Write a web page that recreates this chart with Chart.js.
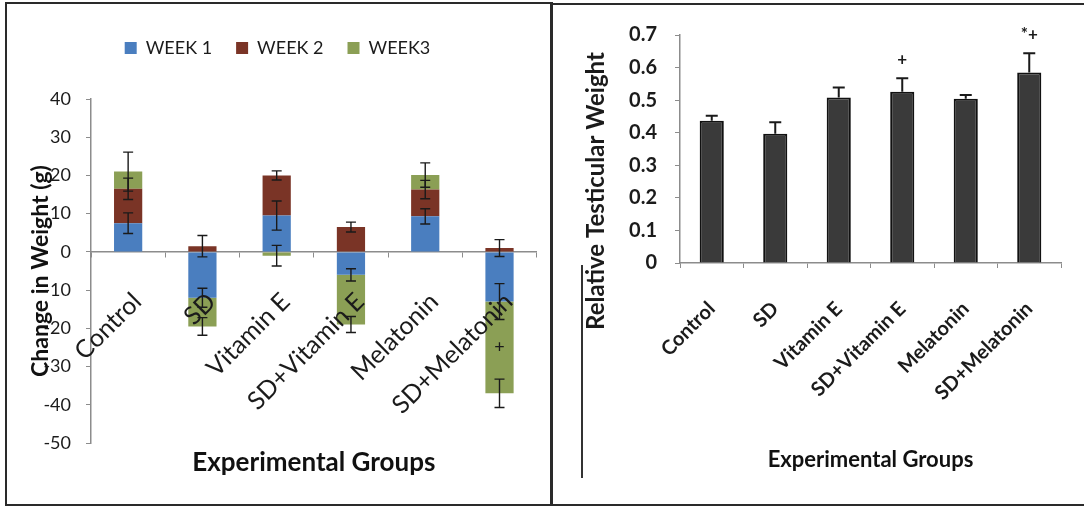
<!DOCTYPE html>
<html>
<head>
<meta charset="utf-8">
<script src="https://cdn.jsdelivr.net/npm/chart.js@4.4.1/dist/chart.umd.min.js"></script>
<style>
  html, body { margin: 0; padding: 0; background: #fff; width: 1084px; height: 507px; overflow: hidden; }
  .frame { position: absolute; border: 2px solid #2a2a2a; box-sizing: border-box; }
  canvas { position: absolute; }
</style>
</head>
<body>
<div class="frame" style="left:5px;top:2px;width:548px;height:504px"></div>
<div class="frame" style="left:550px;top:3px;width:540px;height:503px"></div>
<div style="position:absolute;left:581px;top:265px;width:2px;height:213px;background:#333"></div>
<canvas id="weightChart" width="546" height="502" style="left:6px;top:3px"></canvas>
<canvas id="testisChart" width="533" height="501" style="left:551px;top:4px"></canvas>
<script>
// groups (same for both panels)
const groups = ['Control', 'SD', 'Vitamin E', 'SD+Vitamin E', 'Melatonin', 'SD+Melatonin'];

// change in body weight (g), stacked by week
const week1 = [7.5, -12, 9.5, -6, 9.3, -13];
const week2 = [9, 1.5, 10.5, 6.5, 7, 1];
const week3 = [4.5, -7.5, -1, -13, 3.8, -24];
const week1Err = [2.7, 2.5, 3.8, 1.6, 2.0, 4.7];
const week2Err = [2.8, 2.8, 1.2, 1.3, 2.4, 2.2];
const week3Err = [5.1, 2.3, 2.7, 2.1, 3.2, 3.7];
const week3Marks = ['', '', '', '', '', '+'];

// relative testicular weight
const testis = [0.437, 0.397, 0.508, 0.526, 0.504, 0.585];
const testisErr = [0.015, 0.035, 0.031, 0.041, 0.012, 0.059];
const testisMarks = ['', '', '', '+', '', '*+'];

const axisGray = '#8c8c8c';
const ink = '#1b1b1b';
Chart.defaults.font.family = 'Lato, "Open Sans", sans-serif';
Chart.defaults.color = ink;

// error bars + significance marks, drawn through the y scale
const errorBars = {
  id: 'errorBars',
  afterDatasetsDraw(chart, args, opts) {
    const ctx = chart.ctx;
    const y = chart.scales.y;
    chart.data.datasets.forEach((ds, di) => {
      if (!ds.errors) return;
      const meta = chart.getDatasetMeta(di);
      meta.data.forEach((bar, i) => {
        const end = y.getValueForPixel(bar.y);
        const hi = y.getPixelForValue(end + ds.errors[i]);
        const lo = opts.upOnly ? bar.y : y.getPixelForValue(end - ds.errors[i]);
        const c = opts.cap / 2;
        ctx.save();
        ctx.strokeStyle = opts.color;
        ctx.lineWidth = opts.width;
        ctx.beginPath();
        ctx.moveTo(bar.x, hi); ctx.lineTo(bar.x, lo);
        ctx.moveTo(bar.x - c, hi); ctx.lineTo(bar.x + c, hi);
        if (!opts.upOnly) { ctx.moveTo(bar.x - c, lo); ctx.lineTo(bar.x + c, lo); }
        ctx.stroke();
        if (ds.marks && ds.marks[i]) {
          ctx.fillStyle = ink;
          ctx.font = opts.markFont;
          ctx.textAlign = 'center';
          if (opts.markAbove) {
            ctx.textBaseline = 'bottom';
            ctx.fillText(ds.marks[i], bar.x, hi - 10);
          } else {
            ctx.textBaseline = 'middle';
            ctx.fillText(ds.marks[i], bar.x, (bar.y + bar.base) / 2);
          }
        }
        ctx.restore();
      });
    });
  }
};

// extra room under the legend
const legendGap = {
  id: 'legendGap',
  beforeInit(chart, args, opts) {
    if (!chart.legend) return;
    const fit = chart.legend.fit;
    chart.legend.fit = function () { fit.call(this); this.height += opts.extra || 0; };
  }
};

// rotated side title that sits lower than the axis centre
const sideTitle = {
  id: 'sideTitle',
  afterDraw(chart, args, o) {
    const ctx = chart.ctx;
    ctx.save();
    ctx.translate(o.x, o.y);
    ctx.rotate(-Math.PI / 2);
    ctx.font = o.font;
    ctx.fillStyle = ink;
    ctx.textAlign = 'center';
    ctx.textBaseline = 'middle';
    ctx.fillText(o.text, 0, 0);
    ctx.restore();
  }
};

new Chart(document.getElementById('weightChart'), {
  type: 'bar',
  data: {
    labels: groups,
    datasets: [
      { label: 'WEEK 1', data: week1, errors: week1Err, backgroundColor: '#4a7ebf' },
      { label: 'WEEK 2', data: week2, errors: week2Err, backgroundColor: '#7a3426' },
      { label: 'WEEK3', data: week3, errors: week3Err, marks: week3Marks, backgroundColor: '#8b9f55' }
    ]
  },
  options: {
    responsive: false,
    animation: false,
    categoryPercentage: 1,
    barPercentage: 0.38,
    layout: { padding: { top: 12, right: 3, left: 0, bottom: 0 } },
    plugins: {
      tooltip: { enabled: false },
      legend: {
        position: 'top',
        labels: { boxWidth: 12, boxHeight: 12, padding: 24, font: { size: 18 }, color: ink }
      },
      legendGap: { extra: 32 },
      errorBars: { color: '#1a1a1a', width: 1.4, cap: 10, upOnly: false, markFont: '18px Lato' }
    },
    scales: {
      x: {
        stacked: true,
        position: { y: 0 },
        grid: { drawOnChartArea: false, tickLength: 5, color: axisGray, offset: true },
        border: { color: axisGray, width: 1.5 },
        ticks: { z: 1, minRotation: 45, maxRotation: 45, autoSkip: false, padding: 30, labelOffset: 9, font: { size: 25 }, color: ink }
      },
      xTitle: {
        type: 'category',
        position: 'bottom',
        grid: { display: false },
        border: { display: false },
        ticks: { display: false },
        title: { display: true, text: 'Experimental Groups', font: { size: 26, weight: 'bold' }, color: '#111', padding: { top: 0, bottom: 27 } },
        afterFit(s) { s.height = 62; }
      },
      y: {
        stacked: true,
        min: -50,
        max: 40,
        ticks: { stepSize: 10, padding: 15, font: { size: 18 }, color: ink },
        grid: { drawOnChartArea: false, tickLength: 5, color: axisGray },
        border: { color: axisGray, width: 1.5 },
        title: { display: true, text: 'Change in Weight (g)', font: { size: 23, weight: 'bold' }, color: '#111', padding: { top: 21, bottom: 0 } },
        afterFit(s) { s.width = 85; }
      }
    }
  },
  plugins: [errorBars, legendGap]
});

new Chart(document.getElementById('testisChart'), {
  type: 'bar',
  data: {
    labels: groups,
    datasets: [
      { label: 'Relative Testicular Weight', data: testis, errors: testisErr, marks: testisMarks,
        backgroundColor: '#3a3a3a', borderColor: '#111', borderWidth: 2 }
    ]
  },
  options: {
    responsive: false,
    animation: false,
    categoryPercentage: 1,
    barPercentage: 0.38,
    layout: { padding: { top: 31, right: 23, left: 0, bottom: 0 } },
    plugins: {
      tooltip: { enabled: false },
      legend: { display: false },
      errorBars: { color: '#1a1a1a', width: 2, cap: 12, upOnly: true, markAbove: true, markFont: 'bold 17px Lato' },
      sideTitle: { text: 'Relative Testicular Weight', x: 45, y: 187, font: 'bold 24px Lato' }
    },
    scales: {
      x: {
        grid: { drawOnChartArea: false, tickLength: 5, color: axisGray, offset: true },
        border: { color: axisGray, width: 1.5 },
        ticks: { minRotation: 45, maxRotation: 45, autoSkip: false, padding: 29, font: { size: 20, weight: 'bold' }, color: ink },
        title: { display: true, text: 'Experimental Groups', font: { size: 22, weight: 'bold' }, color: '#111', padding: { top: 0, bottom: 32 } },
        afterFit(s) { s.height = 242; }
      },
      y: {
        min: 0,
        max: 0.7,
        ticks: { stepSize: 0.1, padding: 18, font: { size: 20, weight: 'bold' }, color: ink },
        grid: { drawOnChartArea: false, tickLength: 5, color: axisGray },
        border: { color: axisGray, width: 1.5 },
        afterFit(s) { s.width = 129; }
      }
    }
  },
  plugins: [errorBars, sideTitle]
});
</script>
</body>
</html>
